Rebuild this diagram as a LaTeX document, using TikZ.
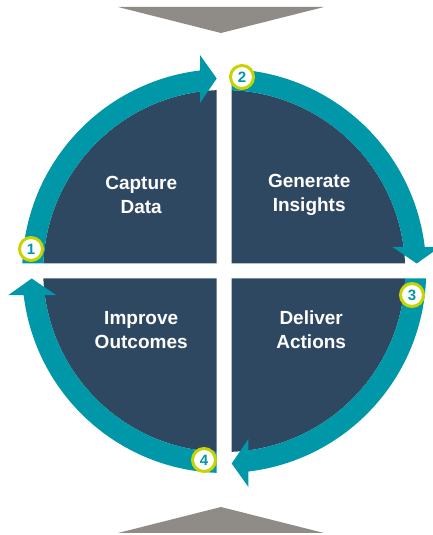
\documentclass[tikz,border=0pt]{standalone}
\usepackage{fontspec}
\setmainfont{Liberation Sans}
\definecolor{cycleteal}{RGB}{0,151,169}
\definecolor{cyclenavy}{RGB}{47,72,98}
\definecolor{cyclegray}{RGB}{143,139,135}
\definecolor{cyclelime}{RGB}{200,212,0}
\tikzset{
  quadrant/.style={fill=cyclenavy},
  ringarrow/.style={fill=cycleteal},
  stagelabel/.style={text=white, font=\fontsize{19}{24}\selectfont\bfseries, align=center},
  stepbadge/.style={circle, draw=cyclelime, line width=3pt, fill=white, minimum size=23pt,
    inner sep=0pt, text=cycleteal, font=\fontsize{15}{15}\selectfont\bfseries},
  flowmark/.style={fill=cyclegray}
}
\begin{document}
\begin{tikzpicture}[x=1pt,y=1pt]
\useasboundingbox (0,0) rectangle (432,535);
% incoming and outgoing flow markers
\fill[flowmark] (118,528) -- (324,528) -- (221,502) -- cycle;
\fill[flowmark] (118,2) -- (324,2) -- (221,28) -- cycle;
\begin{scope}[shift={(224.2,264)}]
  % four dark quadrants separated by a white cross
  \foreach \a in {0,-90,-180,-270}{
    \begin{scope}[rotate=\a]
      \fill[quadrant] (-7.5,7.5) -- (92.375:181)
        arc[start angle=92.375, end angle=177.625, radius=181] -- cycle;
    \end{scope}
  }
  % curved arrows running clockwise round the ring
  \foreach \a in {0,-90,-180,-270}{
    \begin{scope}[rotate=\a]
      \fill[ringarrow] (177.625:181) -- (177.872:202)
        arc[start angle=177.872, end angle=96.88, radius=202]
        -- (-24.2,216) -- (-7.5,192.5) -- (-24.2,168) -- (97.68:181)
        arc[start angle=97.68, end angle=177.625, radius=181] -- cycle;
    \end{scope}
  }
  % stage names
  \node[stagelabel] (capture) at (-83,76) {Capture\\Data};
  \node[stagelabel] (generate) at (85,76) {Generate\\Insights};
  \node[stagelabel] (improve) at (-83,-59) {Improve\\Outcomes};
  \node[stagelabel] (deliver) at (87,-59) {Deliver\\Actions};
  % step numbers
  \node[stepbadge] (s1) at (-193.2,22) {1};
  \node[stepbadge] (s2) at (17.8,194) {2};
  \node[stepbadge] (s3) at (187.8,-24) {3};
  \node[stepbadge] (s4) at (-20.2,-189) {4};
\end{scope}
\end{tikzpicture}
\end{document}
